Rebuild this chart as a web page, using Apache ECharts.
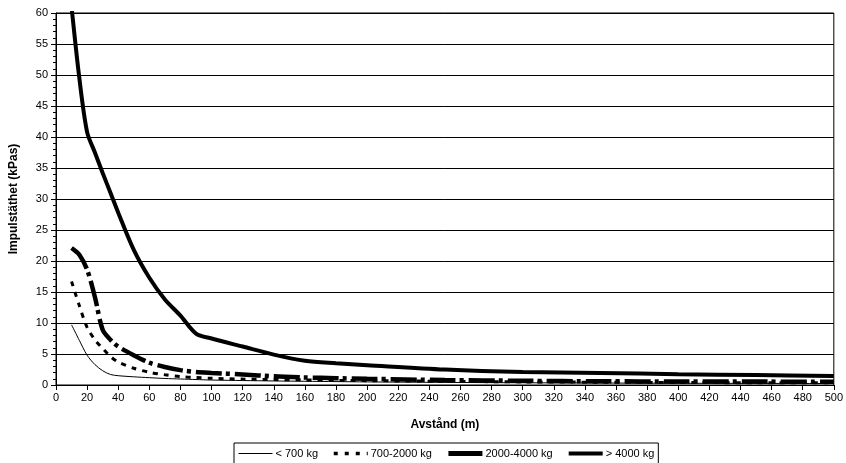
<!DOCTYPE html>
<html>
<head>
<meta charset="utf-8">
<script src="https://cdn.jsdelivr.net/npm/echarts@6/dist/echarts.min.js"></script>
<style>
  html, body { margin: 0; padding: 0; background: #fff; }
  #chart { width: 846px; height: 463px; }
</style>
</head>
<body>
<div id="chart"></div>
<script>
  // distances (m)
  const distances = [10, 15, 20, 25, 30, 35, 40, 50, 60, 70, 80, 90, 100, 120, 140, 160, 180, 200, 250, 300, 350, 400, 450, 500];
  // impulstäthet (kPas) per laddningsvikt
  const under700 = [9.7, 7.2, 4.8, 3.3, 2.3, 1.7, 1.5, 1.32, 1.18, 1.05, 0.97, 0.88, 0.8, 0.72, 0.65, 0.6, 0.55, 0.5, 0.42, 0.36, 0.32, 0.28, 0.26, 0.24];
  const w700to2000 = [16.7, 12.8, 9.3, 7.3, 5.9, 4.6, 3.7, 2.7, 2.05, 1.65, 1.35, 1.2, 1.08, 0.95, 0.88, 0.82, 0.75, 0.7, 0.6, 0.5, 0.45, 0.4, 0.37, 0.35];
  const w2000to4000 = [22.1, 21, 18.6, 14.2, 8.9, 7.3, 6.2, 4.8, 3.6, 2.9, 2.4, 2.1, 1.95, 1.7, 1.4, 1.22, 1.1, 1.0, 0.8, 0.68, 0.6, 0.57, 0.55, 0.52];
  const over4000 = [61, 49.5, 40.8, 37.5, 34.2, 31, 27.8, 21.8, 17.3, 13.8, 11.2, 8.3, 7.5, 6.2, 4.9, 3.9, 3.5, 3.2, 2.5, 2.1, 1.95, 1.75, 1.6, 1.45];
  const seriesNames = ['< 700 kg', '700-2000 kg', '2000-4000 kg', '> 4000 kg'];

  const pairs = (vals) => distances.map((d, i) => [d, vals[i]]);
  const font = 'Liberation Sans, Arial, sans-serif';

  const chart = echarts.init(document.getElementById('chart'));
  const option = {
    animation: false,
    grid: {
      show: true,
      left: 55,
      right: 10,
      top: 13,
      bottom: 78,
      borderColor: '#000',
      borderWidth: 1,
    },
    legend: {
      left: 234,
      top: 443,
      padding: [5, 4, 12, 4],
      borderColor: '#000',
      borderWidth: 1,
      itemWidth: 34,
      itemHeight: 10,
      itemGap: 14,
      // hide the symbol drawn on the legend line
      itemStyle: { opacity: 0 },
      textStyle: { fontFamily: font, fontSize: 11, color: '#000', padding: [0, 0, 0, -2] },
      data: [
        { name: seriesNames[0], lineStyle: { color: '#000', width: 1, type: 'solid' } },
        { name: seriesNames[1], lineStyle: { color: '#000', width: 3.5, type: [4, 7], cap: 'butt' } },
        { name: seriesNames[2], lineStyle: { color: '#000', width: 5, type: 'solid' } },
        { name: seriesNames[3], lineStyle: { color: '#000', width: 4, type: 'solid' } },
      ],
    },
    xAxis: {
      type: 'value',
      min: 0,
      max: 500,
      interval: 20,
      name: 'Avstånd (m)',
      nameLocation: 'middle',
      nameGap: 34,
      nameTextStyle: { fontFamily: font, fontSize: 12, fontWeight: 'bold', color: '#000' },
      axisLine: { show: true, lineStyle: { color: '#000', width: 1 } },
      axisTick: { show: true, length: 5, lineStyle: { color: '#000' } },
      axisLabel: { fontFamily: font, fontSize: 11, color: '#000', margin: 7 },
      splitLine: { show: false },
    },
    yAxis: {
      type: 'value',
      min: 0,
      max: 60,
      interval: 5,
      name: 'Impulstäthet (kPas)',
      nameLocation: 'middle',
      nameGap: 36,
      nameTextStyle: { fontFamily: font, fontSize: 12, fontWeight: 'bold', color: '#000' },
      axisLine: { show: true, lineStyle: { color: '#000', width: 1 } },
      axisTick: { show: true, length: 5, lineStyle: { color: '#000' } },
      minorTick: { show: true, splitNumber: 5, length: 3, lineStyle: { color: '#000' } },
      axisLabel: { fontFamily: font, fontSize: 11, color: '#000', margin: 8 },
      splitLine: { show: true, lineStyle: { color: '#000', width: 1 } },
    },
    series: [
      {
        name: seriesNames[0],
        type: 'line',
        data: pairs(under700),
        symbol: 'none',
        smooth: 0.3,
        itemStyle: { color: '#000' },
        lineStyle: { color: '#000', width: 1 },
      },
      {
        name: seriesNames[1],
        type: 'line',
        data: pairs(w700to2000),
        symbol: 'none',
        smooth: 0.3,
        itemStyle: { color: '#000' },
        lineStyle: { color: '#000', width: 3, type: [5, 6], cap: 'butt' },
      },
      {
        name: seriesNames[2],
        type: 'line',
        data: pairs(w2000to4000),
        symbol: 'none',
        smooth: 0.3,
        itemStyle: { color: '#000' },
        lineStyle: { color: '#000', width: 4.5, type: [26, 4, 4, 5], cap: 'butt' },
      },
      {
        name: seriesNames[3],
        type: 'line',
        data: pairs(over4000),
        symbol: 'none',
        smooth: 0.3,
        itemStyle: { color: '#000' },
        lineStyle: { color: '#000', width: 4 },
      },
    ],
  };
  chart.setOption(option);
</script>
</body>
</html>
